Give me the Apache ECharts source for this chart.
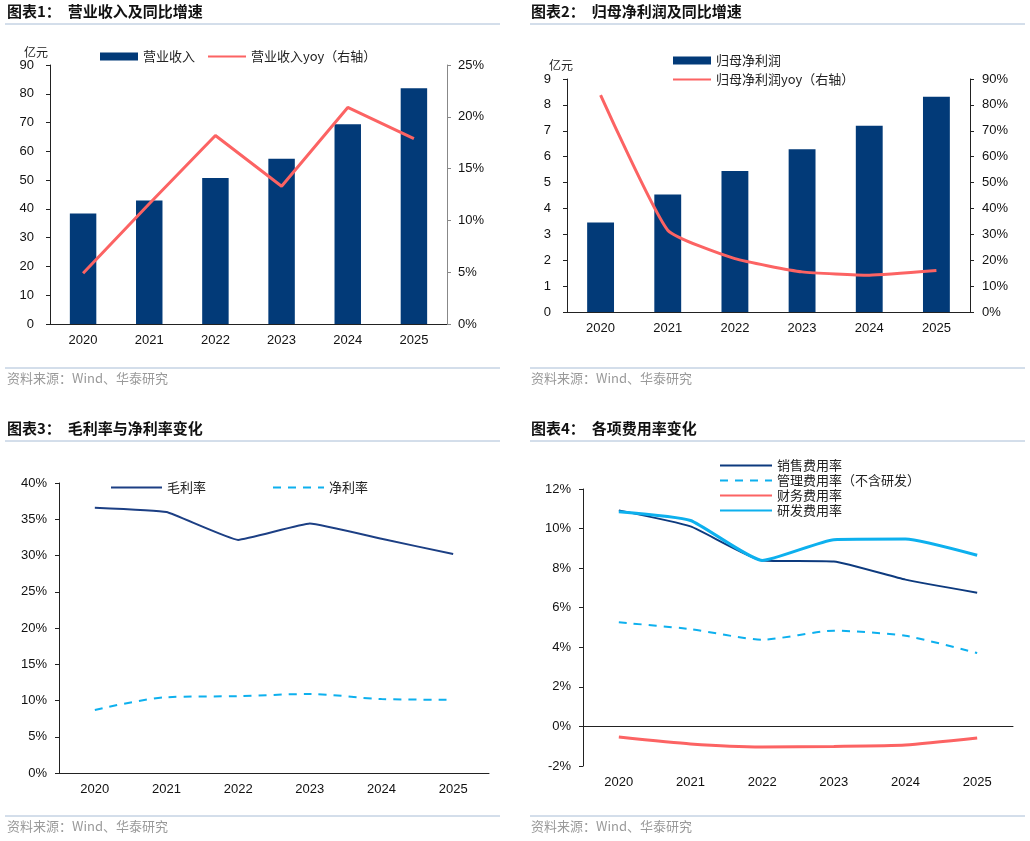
<!DOCTYPE html>
<html>
<head>
<meta charset="utf-8">
<script src="https://cdn.jsdelivr.net/npm/echarts@6/dist/echarts.min.js"></script>
<style>
  html, body { margin: 0; padding: 0; background: #fff; }
  #main { width: 1030px; height: 841px; }
</style>
</head>
<body>
<div id="main"></div>
<script>
// 数据
var years = ['2020', '2021', '2022', '2023', '2024', '2025'];

var revenue = [38.4, 42.9, 50.7, 57.4, 69.4, 81.9];        // 营业收入（亿元）
var revenueYoy = [4.9, 11.6, 18.2, 13.3, 20.9, 17.9];     // %

var netProfit = [3.46, 4.54, 5.45, 6.29, 7.19, 8.31];     // 归母净利润（亿元）
var netProfitYoy = [83.8, 31.6, 20.6, 15.5, 14.2, 16.0];  // %

var grossMargin = [36.6, 36.0, 32.15, 34.4, 32.3, 30.2];  // 毛利率 %
var netMargin = [8.7, 10.45, 10.6, 10.9, 10.2, 10.1];     // 净利率 %

var sellRate = [10.92, 10.11, 8.39, 8.34, 7.42, 6.76];    // 销售费用率
var adminRate = [5.26, 4.92, 4.38, 4.84, 4.58, 3.71];     // 管理费用率（不含研发）
var finRate = [-0.54, -0.89, -1.04, -1.01, -0.94, -0.59]; // 财务费用率
var rdRate = [10.85, 10.41, 8.39, 9.44, 9.47, 8.65];      // 研发费用率

var NAVY = '#023a78';
var RED = '#fc6363';
var SKY = '#0db0ee';
var LINE = '#a8bdd6';
var FONT = 'Liberation Sans, Arial, sans-serif';
var CJK = 'Noto Sans CJK SC';

var myChart = echarts.init(document.getElementById('main'));

function pct(v) { return v + '%'; }

// 通用坐标轴样式
function catAxis(grid, extra) {
    var a = {
        type: 'category',
        gridIndex: grid,
        data: years,
        axisLine: { lineStyle: { color: '#222', width: 1 } },
        axisTick: { alignWithLabel: false, length: 4, lineStyle: { color: '#222' } },
        axisLabel: { color: '#111', fontSize: 13, fontFamily: FONT, margin: 10 },
        splitLine: { show: false }
    };
    return Object.assign(a, extra || {});
}
function valAxis(grid, extra) {
    var a = {
        type: 'value',
        gridIndex: grid,
        axisLine: { show: true, lineStyle: { color: '#222', width: 1 } },
        axisTick: { show: true, length: 4, lineStyle: { color: '#222' } },
        axisLabel: { color: '#111', fontSize: 13, fontFamily: FONT, margin: 16 },
        splitLine: { show: false }
    };
    return Object.assign(a, extra || {});
}
function pctLabel(m) {
    return { color: '#111', fontSize: 13, fontFamily: FONT, margin: m, formatter: pct };
}

var titleStyle = { fontSize: 15, fontWeight: 'bold', color: '#111', fontFamily: CJK };
var legendText = { fontSize: 13, color: '#222', fontFamily: CJK };
var footStyle = { fill: '#9a9a9a', fontSize: 13, fontFamily: CJK, text: '资料来源：Wind、华泰研究' };
var noDot = { opacity: 0 };

var option = {
    backgroundColor: '#fff',
    animation: false,
    title: [
        { text: '图表1：  营业收入及同比增速', left: 7, top: 4, padding: 0, textStyle: titleStyle },
        { text: '图表2：  归母净利润及同比增速', left: 531, top: 4, padding: 0, textStyle: titleStyle },
        { text: '图表3：  毛利率与净利率变化', left: 7, top: 421, padding: 0, textStyle: titleStyle },
        { text: '图表4：  各项费用率变化', left: 531, top: 421, padding: 0, textStyle: titleStyle }
    ],
    legend: [
        {
            left: 100, top: 50, padding: 0, itemWidth: 38, itemHeight: 8, itemGap: 12,
            textStyle: legendText,
            data: [
                { name: '营业收入', icon: 'rect' },
                { name: '营业收入yoy（右轴）', itemStyle: noDot }
            ]
        },
        {
            left: 672, top: 54, padding: 0, orient: 'vertical', itemWidth: 38, itemHeight: 8, itemGap: 6,
            textStyle: legendText,
            data: [
                { name: '归母净利润', icon: 'rect' },
                { name: '归母净利润yoy（右轴）', itemStyle: noDot }
            ]
        },
        {
            left: 110, top: 481, padding: 0, itemWidth: 51, itemHeight: 12, itemGap: 66,
            textStyle: legendText, itemStyle: noDot,
            data: ['毛利率', '净利率']
        },
        {
            left: 719, top: 459, padding: 0, orient: 'vertical', itemWidth: 52, itemHeight: 12, itemGap: 2,
            textStyle: legendText, itemStyle: noDot,
            data: ['销售费用率', '管理费用率（不含研发）', '财务费用率', '研发费用率']
        }
    ],
    grid: [
        { left: 50, top: 65, width: 397, height: 259 },
        { left: 567, top: 79, width: 403, height: 233 },
        { left: 59, top: 483, width: 430, height: 290 },
        { left: 583, top: 489, width: 430, height: 277 }
    ],
    xAxis: [
        catAxis(0),
        catAxis(1),
        catAxis(2),
        catAxis(3, { axisLabel: { show: false } }),
        catAxis(3, {
            axisLine: { show: false, onZero: false },
            axisTick: { show: false },
            position: 'bottom'
        })
    ],
    yAxis: [
        valAxis(0, {
            min: 0, max: 90, interval: 10, name: '亿元', nameGap: 7,
            nameTextStyle: { color: '#222', fontSize: 12, fontFamily: CJK, align: 'right', padding: [0, 2, 0, 0] }
        }),
        valAxis(0, {
            min: 0, max: 25, interval: 5, position: 'right',
            axisLine: { show: true, lineStyle: { color: '#888' } },
            axisTick: { show: true, length: 4, lineStyle: { color: '#888' } },
            axisLabel: pctLabel(11)
        }),
        valAxis(1, {
            min: 0, max: 9, interval: 1, name: '亿元', nameGap: 8,
            nameTextStyle: { color: '#222', fontSize: 12, fontFamily: CJK, align: 'right', padding: [0, -6, 0, 0] }
        }),
        valAxis(1, {
            min: 0, max: 90, interval: 10, position: 'right',
            axisLabel: pctLabel(12)
        }),
        valAxis(2, {
            min: 0, max: 40, interval: 5,
            axisLabel: pctLabel(12)
        }),
        valAxis(3, {
            min: -2, max: 12, interval: 2,
            axisLabel: pctLabel(12)
        })
    ],
    series: [
        {
            name: '营业收入', type: 'bar', xAxisIndex: 0, yAxisIndex: 0,
            data: revenue, barWidth: '40%', itemStyle: { color: NAVY }
        },
        {
            name: '营业收入yoy（右轴）', type: 'line', xAxisIndex: 0, yAxisIndex: 1,
            data: revenueYoy, symbol: 'none', lineStyle: { color: RED, width: 3 }, itemStyle: { color: RED }
        },
        {
            name: '归母净利润', type: 'bar', xAxisIndex: 1, yAxisIndex: 2,
            data: netProfit, barWidth: '40%', itemStyle: { color: NAVY }
        },
        {
            name: '归母净利润yoy（右轴）', type: 'line', xAxisIndex: 1, yAxisIndex: 3,
            data: netProfitYoy, symbol: 'none', smooth: 0.15,
            lineStyle: { color: RED, width: 3 }, itemStyle: { color: RED }
        },
        {
            name: '毛利率', type: 'line', xAxisIndex: 2, yAxisIndex: 4,
            data: grossMargin, symbol: 'none', smooth: 0.1,
            lineStyle: { color: '#1c3f84', width: 2 }, itemStyle: { color: '#1c3f84' }
        },
        {
            name: '净利率', type: 'line', xAxisIndex: 2, yAxisIndex: 4,
            data: netMargin, symbol: 'none', smooth: 0.3,
            lineStyle: { color: SKY, width: 2, type: [8, 7] }, itemStyle: { color: SKY }
        },
        {
            name: '销售费用率', type: 'line', xAxisIndex: 3, yAxisIndex: 5,
            data: sellRate, symbol: 'none', smooth: 0.15,
            lineStyle: { color: '#0d3a7e', width: 2 }, itemStyle: { color: '#0d3a7e' }
        },
        {
            name: '管理费用率（不含研发）', type: 'line', xAxisIndex: 3, yAxisIndex: 5,
            data: adminRate, symbol: 'none', smooth: 0.2,
            lineStyle: { color: SKY, width: 2, type: [8, 7] }, itemStyle: { color: SKY }
        },
        {
            name: '财务费用率', type: 'line', xAxisIndex: 3, yAxisIndex: 5,
            data: finRate, symbol: 'none', smooth: 0.2,
            lineStyle: { color: RED, width: 3 }, itemStyle: { color: RED }
        },
        {
            name: '研发费用率', type: 'line', xAxisIndex: 3, yAxisIndex: 5,
            data: rdRate, symbol: 'none', smooth: 0.15,
            lineStyle: { color: SKY, width: 3 }, itemStyle: { color: SKY }
        }
    ],
    graphic: [
        // 标题下方分隔线
        { type: 'line', shape: { x1: 5, y1: 24, x2: 500, y2: 24 }, style: { stroke: LINE, lineWidth: 1 } },
        { type: 'line', shape: { x1: 530, y1: 24, x2: 1025, y2: 24 }, style: { stroke: LINE, lineWidth: 1 } },
        { type: 'line', shape: { x1: 5, y1: 441, x2: 500, y2: 441 }, style: { stroke: LINE, lineWidth: 1 } },
        { type: 'line', shape: { x1: 530, y1: 441, x2: 1025, y2: 441 }, style: { stroke: LINE, lineWidth: 1 } },
        // 资料来源
        { type: 'line', shape: { x1: 5, y1: 368, x2: 500, y2: 368 }, style: { stroke: LINE, lineWidth: 1 } },
        { type: 'line', shape: { x1: 530, y1: 368, x2: 1025, y2: 368 }, style: { stroke: LINE, lineWidth: 1 } },
        { type: 'line', shape: { x1: 5, y1: 816, x2: 500, y2: 816 }, style: { stroke: LINE, lineWidth: 1 } },
        { type: 'line', shape: { x1: 530, y1: 816, x2: 1025, y2: 816 }, style: { stroke: LINE, lineWidth: 1 } },
        { type: 'text', left: 7, top: 372, style: footStyle },
        { type: 'text', left: 531, top: 372, style: footStyle },
        { type: 'text', left: 7, top: 820, style: footStyle },
        { type: 'text', left: 531, top: 820, style: footStyle }
    ]
};

myChart.setOption(option);
</script>
</body>
</html>
